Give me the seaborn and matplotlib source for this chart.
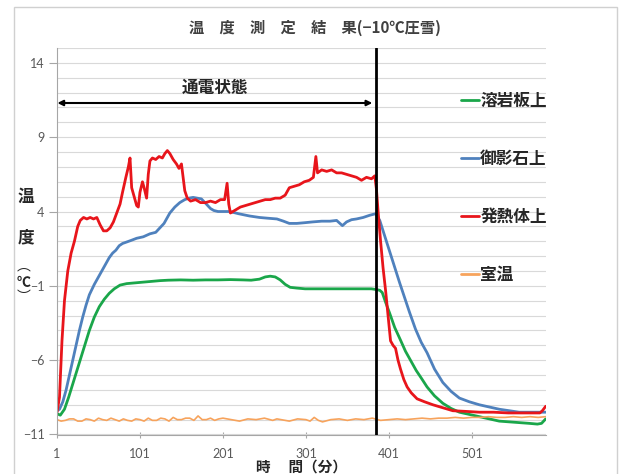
import numpy as np
import pandas as pd
import seaborn as sns
import matplotlib.pyplot as plt
from matplotlib.patches import Rectangle

# --- data (minutes, deg C) ---
series_names = ["溶岩板上", "御影石上", "発熱体上", "室温"]
series_colors = ["#1aa64a", "#4f81bd", "#e8151b", "#f7a35c"]
power_off_minute = 385

lava_min = [1, 5, 10, 15, 20, 25, 30, 35, 40, 46, 52, 58, 64, 70, 77, 85, 95, 105, 115,
            125, 135, 150, 165, 180, 195, 210, 225, 235, 245, 252, 258, 264, 270, 276,
            282, 290, 300, 320, 340, 360, 380, 386, 390, 393, 397, 402, 408, 415, 421,
            427, 434, 440, 447, 456, 466, 476, 486, 498, 510, 522, 534, 546, 558, 570,
            580, 585, 590]
lava_temp = [-9.6, -9.7, -9.3, -8.5, -7.6, -6.7, -5.8, -4.9, -4.0, -3.1, -2.4, -1.9, -1.5,
             -1.2, -0.95, -0.85, -0.8, -0.75, -0.7, -0.65, -0.62, -0.6, -0.62, -0.6, -0.6,
             -0.58, -0.6, -0.62, -0.55, -0.4, -0.35, -0.4, -0.6, -0.9, -1.1, -1.15, -1.2,
             -1.2, -1.2, -1.2, -1.2, -1.25, -1.3, -1.45, -2.1, -2.85, -3.8, -4.65, -5.4,
             -6.0, -6.7, -7.2, -7.8, -8.4, -8.9, -9.25, -9.5, -9.65, -9.8, -9.95, -10.1,
             -10.15, -10.2, -10.25, -10.3, -10.25, -9.95]

granite_min = [1, 4, 8, 12, 16, 20, 24, 28, 32, 36, 40, 46, 52, 58, 64, 68, 72, 76, 80, 85,
               90, 97, 105, 113, 120, 125, 130, 137, 143, 149, 155, 160, 165, 170, 175,
               181, 186, 190, 195, 200, 209, 220, 233, 245, 255, 266, 274, 281, 290, 300,
               309, 320, 330, 338, 342, 345, 350, 356, 362, 370, 378, 385, 390, 398, 406,
               414, 420, 426, 433, 440, 447, 456, 466, 476, 486, 498, 510, 522, 534, 546,
               558, 570, 582, 590]
granite_temp = [-9.4, -9.3, -8.8, -8.0, -7.0, -6.0, -5.0, -4.0, -3.1, -2.3, -1.6, -0.9,
                -0.3, 0.3, 0.9, 1.2, 1.4, 1.7, 1.85, 1.95, 2.05, 2.2, 2.3, 2.5, 2.6, 2.9,
                3.2, 3.9, 4.3, 4.6, 4.8, 4.9, 4.95, 4.9, 4.85, 4.5, 4.2, 4.07, 4.0, 4.0,
                4.0, 3.85, 3.7, 3.6, 3.55, 3.5, 3.35, 3.2, 3.2, 3.25, 3.3, 3.35, 3.35,
                3.4, 3.2, 3.05, 3.3, 3.45, 3.5, 3.6, 3.75, 3.85, 3.4, 2.0, 0.6, -0.8, -1.8,
                -2.8, -3.9, -4.8, -5.5, -6.6, -7.5, -8.1, -8.55, -8.8, -9.0, -9.15, -9.3,
                -9.4, -9.5, -9.5, -9.5, -9.5]

heater_min = [1, 4, 7, 10, 14, 18, 22, 26, 29, 33, 37, 41, 45, 49, 53, 57, 61, 65, 69, 73,
              77, 80, 84, 87, 89, 91, 94, 97, 99, 101, 104, 106, 109, 111, 113, 116, 120,
              124, 128, 131, 134, 137, 141, 145, 148, 151, 153, 155, 158, 162, 168, 174,
              180, 186, 192, 198, 203, 206, 208, 210, 216, 222, 228, 234, 240, 246, 252,
              258, 264, 270, 276, 281, 287, 293, 299, 305, 310, 313, 315, 320, 326, 332,
              338, 344, 350, 356, 362, 368, 374, 380, 384, 386, 388, 391, 394, 397, 400,
              403, 406, 409, 412, 415, 419, 423, 428, 435, 444, 454, 466, 478, 495, 510,
              527, 545, 565, 583, 586, 590]
heater_temp = [-9.5, -8.5, -4.7, -2.0, 0.0, 1.2, 2.0, 3.0, 3.4, 3.6, 3.5, 3.6, 3.5, 3.6,
               3.1, 2.7, 2.7, 2.9, 3.3, 3.9, 4.5, 5.3, 6.3, 7.0, 7.6, 5.6, 5.0, 4.4, 4.3,
               5.3, 6.0, 5.6, 4.9, 6.5, 7.4, 7.6, 7.5, 7.7, 7.6, 7.9, 8.1, 7.9, 7.5, 7.2,
               6.9, 7.2, 6.3, 5.4, 4.9, 4.7, 4.8, 4.6, 4.6, 4.7, 4.6, 4.8, 4.8, 5.9, 4.5,
               3.9, 4.1, 4.3, 4.4, 4.5, 4.6, 4.7, 4.8, 4.8, 4.9, 4.9, 5.1, 5.6, 5.7, 5.8,
               6.0, 6.1, 6.3, 7.7, 6.6, 6.8, 6.7, 6.8, 6.6, 6.6, 6.5, 6.4, 6.3, 6.1, 6.3,
               6.2, 6.4, 5.5, 4.0, 2.0, 0.2, -1.3, -3.0, -4.7, -5.0, -5.2, -6.0, -6.6,
               -7.3, -7.8, -8.2, -8.6, -8.8, -9.0, -9.2, -9.4, -9.45, -9.5, -9.5, -9.55,
               -9.55, -9.55, -9.4, -9.1]

room_min = [1, 6, 11, 16, 21, 26, 31, 36, 41, 46, 51, 56, 61, 66, 71, 76, 81, 86, 91, 96,
            101, 106, 111, 116, 121, 126, 131, 136, 141, 146, 151, 156, 161, 166, 171, 176,
            181, 186, 191, 196, 201, 211, 221, 231, 241, 251, 261, 266, 271, 281, 291, 301,
            306, 311, 316, 321, 331, 341, 351, 361, 371, 381, 391, 401, 411, 421, 431, 441,
            451, 461, 471, 481, 491, 501, 511, 521, 531, 541, 551, 561, 571, 581, 590]
room_temp = [-10.0, -10.1, -10.05, -9.95, -9.95, -10.1, -10.1, -9.95, -10.0, -10.1, -9.9,
             -10.0, -10.05, -9.9, -10.0, -10.1, -9.95, -10.05, -10.1, -9.95, -10.0, -10.1,
             -9.9, -10.05, -10.05, -9.9, -9.95, -10.1, -9.85, -10.0, -10.0, -9.9, -9.9,
             -10.05, -9.75, -10.0, -10.0, -9.9, -10.05, -9.95, -9.9, -10.0, -10.1, -9.95,
             -10.0, -9.9, -10.05, -9.95, -10.0, -10.1, -9.95, -10.0, -10.1, -9.85, -10.05,
             -10.15, -10.0, -9.95, -10.05, -9.95, -10.0, -9.9, -10.05, -10.0, -9.95,
             -10.0, -9.95, -9.9, -9.95, -9.9, -9.9, -9.85, -9.9, -9.85, -9.85, -9.8,
             -9.85, -9.85, -9.8, -9.85, -9.8, -9.85, -9.8]

x_ticks = [1, 101, 201, 301, 401, 501]
y_ticks = [-11, -6, -1, 4, 9, 14]

frames = []
for name, mins, temps in zip(series_names,
                             [lava_min, granite_min, heater_min, room_min],
                             [lava_temp, granite_temp, heater_temp, room_temp]):
    frames.append(pd.DataFrame({"minute": mins, "temp": temps, "series": name}))
df = pd.concat(frames, ignore_index=True)

sns.set_theme(style="white")
plt.rcParams['font.family'] = ['Noto Sans CJK JP', 'DejaVu Sans']

fig = plt.figure(figsize=(6.22, 4.74), dpi=100)
ax = fig.add_axes([57 / 622, 1 - 434.5 / 474, (545.7 - 57) / 622, (434.5 - 48) / 474])

for name, color in zip(series_names, series_colors):
    sub = df[df["series"] == name]
    lw = 1.2 if name == "室温" else 2.0
    sns.lineplot(data=sub, x="minute", y="temp", color=color, linewidth=lw,
                 label=name, ax=ax, sort=False, estimator=None)

ax.axvline(power_off_minute, color="black", linewidth=2, zorder=5)

ax.set_xlim(1, 590)
ax.set_ylim(-11, 15)
ax.set_xticks(x_ticks)
ax.set_yticks(y_ticks)
ax.set_yticks(range(-11, 16), minor=True)
ax.grid(axis="y", which="both", color="#d9d9d9", linewidth=0.8)
ax.set_axisbelow(True)
ax.set_xlabel("")
ax.set_ylabel("")

for side in ["top", "right"]:
    ax.spines[side].set_visible(False)
for side in ["left", "bottom"]:
    ax.spines[side].set_color("#a6a6a6")
    ax.spines[side].set_linewidth(0.8)

ax.tick_params(axis="y", which="major", direction="out", length=6, width=0.8,
               color="#a6a6a6", pad=3, labelsize=9, labelcolor="#595959", left=True)
ax.tick_params(axis="y", which="minor", length=0)
ax.tick_params(axis="x", direction="inout", length=4, width=0.8, color="#a6a6a6",
               pad=8, labelsize=9, labelcolor="#595959", bottom=True)
for lab in ax.get_xticklabels() + ax.get_yticklabels():
    lab.set_family("Lato")

# power-on period arrow
ax.annotate("", xy=(1.5, 11.3), xytext=(381, 11.3),
            arrowprops=dict(arrowstyle="<|-|>", color="black", lw=1.5,
                            shrinkA=0, shrinkB=0, mutation_scale=8))
ax.text(191, 12.3, "通電状態", ha="center", va="center", fontsize=12,
        fontweight="bold", color="#262626")

leg = ax.legend(loc="upper left", bbox_to_anchor=(461 / 622, 1 - 92 / 474),
                bbox_transform=fig.transFigure, frameon=False, fontsize=12,
                handlelength=1.1, handletextpad=0.05, labelspacing=2.4,
                borderpad=0, borderaxespad=0)
for t in leg.get_texts():
    t.set_color("#262626")
    t.set_fontweight("bold")
for h in leg.get_lines():
    h.set_linewidth(2)

fig.text(315 / 622, 1 - 28 / 474, "温\u3000度\u3000測\u3000定\u3000結\u3000果(−10℃圧雪)",
         ha="center", va="center", fontsize=11, fontweight="bold", color="#404040")

# stacked y label and x label
fig.text(26 / 622, 1 - 197 / 474, "温", ha="center", va="center", fontsize=12,
         fontweight="bold", color="#262626")
fig.text(26 / 622, 1 - 237 / 474, "度", ha="center", va="center", fontsize=12,
         fontweight="bold", color="#262626")
fig.text(24 / 622, 1 - 266 / 474, "︵", ha="center", va="center", fontsize=10,
         color="#262626")
fig.text(24 / 622, 1 - 283 / 474, "℃", ha="center", va="center", fontsize=10,
         fontweight="bold", color="#262626")
fig.text(24 / 622, 1 - 297 / 474, "︶", ha="center", va="center", fontsize=10,
         color="#262626")
fig.text(301 / 622, 1 - 467 / 474, "時\u3000 間（分）", ha="center", va="center",
         fontsize=10.5, fontweight="bold", color="#262626")

# chart border
fig.patches.append(Rectangle((14 / 622, -0.05), (617 - 14) / 622, 1.05 - 7 / 474,
                             transform=fig.transFigure, fill=False,
                             edgecolor="#d0d0d0", linewidth=1))

fig.savefig("out.png", dpi=100, facecolor="white")
